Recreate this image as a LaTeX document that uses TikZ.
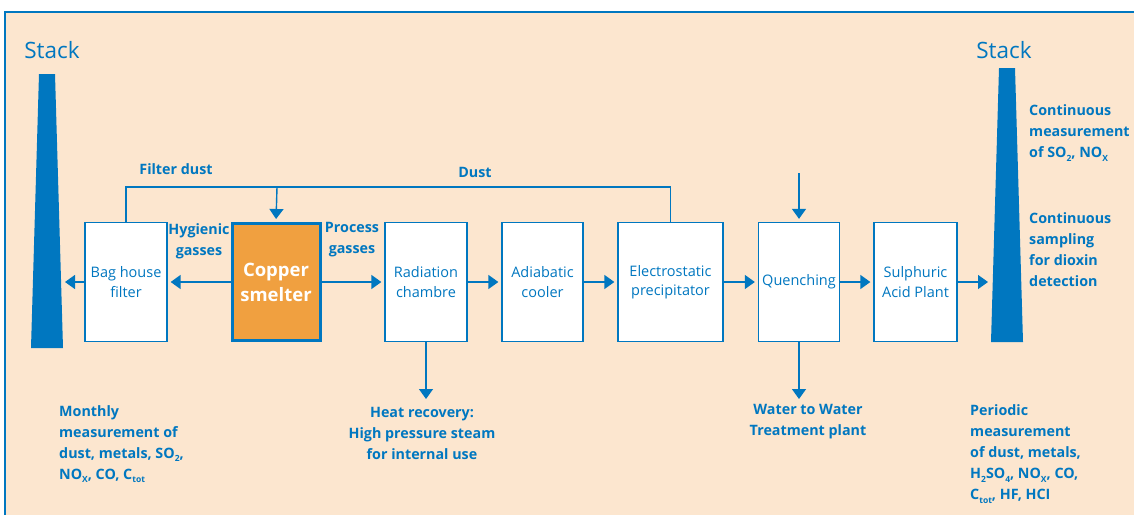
\documentclass[tikz,border=0pt]{standalone}
\usepackage{fontspec}
\setmainfont{Open Sans}
\usetikzlibrary{arrows.meta}
\definecolor{plantblue}{RGB}{0,119,192}
\definecolor{plantbg}{RGB}{252,230,207}
\definecolor{smeltorange}{RGB}{240,160,64}
\newcommand{\lowsub}[1]{\raisebox{-0.45ex}{\fontsize{8.5}{9}\selectfont #1}}
\tikzset{
  unit/.style={draw=plantblue, fill=white, line width=1.3pt, minimum height=119pt,
    text=plantblue, align=center, inner sep=2pt, font=\fontsize{14.5}{19.5}\selectfont},
  flow/.style={draw=plantblue, line width=1.4pt, -{Triangle[length=10pt,width=14pt]}, shorten >=3pt},
  link/.style={draw=plantblue, line width=1.4pt},
  note/.style={text=plantblue, inner sep=0pt, font=\bfseries\fontsize{14.3}{21}\selectfont},
  stacklabel/.style={text=plantblue, inner sep=0pt, font=\fontsize{22.5}{26}\selectfont},
}
\begin{document}
\begin{tikzpicture}[x=1pt,y=-1pt]
\useasboundingbox (0,0) rectangle (1134,514);
\clip (0,0) rectangle (1134,514);
%rahmen
  \fill[white] (0,0) rectangle (1134,514);
  \fill[plantbg] (5,12) rectangle (1140,520);
  \draw[plantblue, line width=2pt] (5,520) -- (5,12) -- (1140,12);
%schornsteine
  \fill[plantblue] (39,74) -- (55,74) -- (63,348) -- (31,348) -- cycle;
  \fill[plantblue] (999,68) -- (1015,68) -- (1023,342) -- (991,342) -- cycle;
  \node[stacklabel] (lstack) at (52,50) {Stack};
  \node[stacklabel] (rstack) at (1004,50) {Stack};
  \coordinate (lstackin) at (62,282);
  \coordinate (rstackin) at (991,282);
%anlagen
  \node[unit, minimum width=82pt] (bag) at (126,282) {Bag house\\filter};
  \node[unit, minimum width=88pt, minimum height=117pt, fill=smeltorange, line width=3pt,
    text=white, font=\bfseries\fontsize{18.5}{25}\selectfont] (smelter) at (276,282) {Copper\\smelter};
  \node[unit, minimum width=82pt] (rad) at (426,282) {Radiation\\chambre};
  \node[unit, minimum width=81pt] (adia) at (542.5,282) {Adiabatic\\cooler};
  \node[unit, minimum width=105pt] (esp) at (670.5,282) {Electrostatic\\precipitator};
  \node[unit, minimum width=81pt] (quench) at (799,282) {Quenching};
  \node[unit, minimum width=83pt] (acid) at (915.5,282) {Sulphuric\\Acid Plant};
%gasstrom
  \draw[flow] (smelter) -- (bag);
  \draw[flow] (bag) -- (lstackin);
  \draw[flow] (smelter) -- (rad);
  \draw[flow] (rad) -- (adia);
  \draw[flow] (adia) -- (esp);
  \draw[flow] (esp) -- (quench);
  \draw[flow] (quench) -- (acid);
  \draw[flow] (acid) -- (rstackin);
%staubrueckfuehrung
  \coordinate (dustjoin) at (277,187);
  \coordinate (quenchin) at (799,173);
  \coordinate (heatout) at (426,402);
  \coordinate (waterout) at (799,402);
  \draw[link] (bag.north) -- ++(0,-35) -| (esp.north);
  \draw[flow] (dustjoin) -- (smelter.north);
  \draw[flow] (quenchin) -- (quench.north);
  \draw[flow] (rad.south) -- (heatout);
  \draw[flow] (quench.south) -- (waterout);
%beschriftungen
  \node[note] (filterdust) at (176,169) {Filter dust};
  \node[note] (dust) at (475,172) {Dust};
  \node[note, align=center] (hyg) at (199,241) {Hygienic\\gasses};
  \node[note, align=center] (proc) at (352,240) {Process\\gasses};
  \node[note, align=center] (heat) at (422,433) {Heat recovery:\\High pressure steam\\for internal use};
  \node[note, align=center] (water) at (808,422) {Water to Water\\Treatment plant};
  \node[note, align=left, anchor=west] (monthly) at (59,444)
    {Monthly\\measurement of\\dust, metals, SO\lowsub{2},\\NO\lowsub{X}, CO, C\lowsub{tot}};
  \node[note, align=left, anchor=west] (periodic) at (970,454)
    {Periodic\\measurement\\of dust, metals,\\H\lowsub{2}SO\lowsub{4}, NO\lowsub{X}, CO,\\C\lowsub{tot}, HF, HCI};
  \node[note, align=left, anchor=west] (contmeas) at (1029,133)
    {Continuous\\measurement\\of SO\lowsub{2}, NO\lowsub{X}};
  \node[note, align=left, anchor=west] (contsamp) at (1029,250)
    {Continuous\\sampling\\for dioxin\\detection};
\end{tikzpicture}
\end{document}
